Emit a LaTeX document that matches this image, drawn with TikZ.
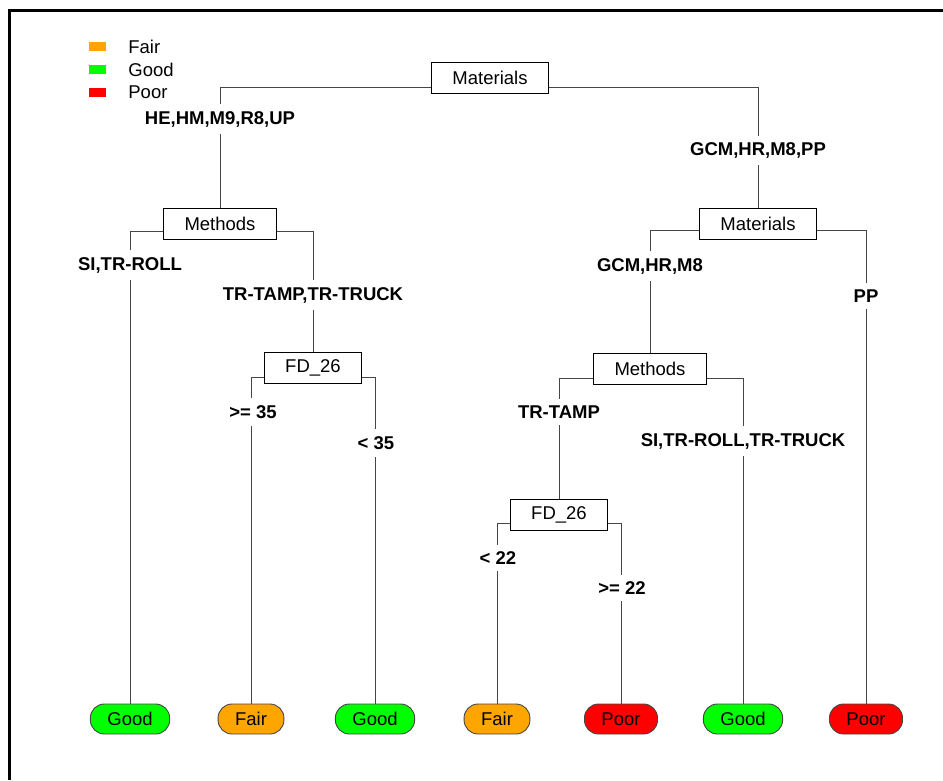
\documentclass[tikz,border=0pt]{standalone}
\usepackage{fontspec}
\setmainfont{Liberation Sans}
\usetikzlibrary{positioning}
\definecolor{fairc}{RGB}{255,165,0}
\definecolor{goodc}{RGB}{0,255,0}
\definecolor{poorc}{RGB}{255,0,0}
\definecolor{linec}{RGB}{70,70,70}

\begin{document}
\begin{tikzpicture}[x=1pt, y=-1pt,
    split/.style={draw, line width=0.9pt, fill=white, minimum height=31pt, inner xsep=21pt, font=\fontsize{18.5}{22}\selectfont},
    leaf/.style={draw=linec, line width=0.9pt, rounded corners=14pt, minimum height=30pt, inner xsep=17pt, font=\fontsize{18.5}{22}\selectfont},
    branch/.style={fill=white, inner xsep=2pt, inner ysep=7pt, font=\fontsize{18.5}{22}\selectfont\bfseries},
    edge/.style={draw=linec, line width=1pt},
    key/.style={minimum width=17pt, minimum height=9pt, inner sep=0pt},
]
  \useasboundingbox (0,0) rectangle (943,780);
  \draw[line width=3pt] (9.5,780) -- (9.5,10.5) -- (943,10.5);

  % legend
  \node[key, fill=fairc] (kfair) at (97.5,46.5) {};
  \node[key, fill=goodc] (kgood) at (97.5,69.5) {};
  \node[key, fill=poorc] (kpoor) at (97.5,92) {};
  \node[right=22pt of kfair, inner sep=0pt, font=\fontsize{18.5}{22}\selectfont] {Fair};
  \node[right=22pt of kgood, inner sep=0pt, font=\fontsize{18.5}{22}\selectfont] {Good};
  \node[right=22pt of kpoor, inner sep=0pt, font=\fontsize{18.5}{22}\selectfont] {Poor};

  % splits
  \node[split] (root) at (490,78) {Materials};
  \node[split] (methA) at (220,223.5) {Methods};
  \node[split] (fdA) at (313,368) {FD\_26};
  \node[split] (matB) at (758,224) {Materials};
  \node[split] (methB) at (650,369) {Methods};
  \node[split] (fdB) at (559,514.5) {FD\_26};

  % leaves
  \node[leaf, fill=goodc] (leafA) at (130,719) {Good};
  \node[leaf, fill=fairc] (leafB) at (251,719) {Fair};
  \node[leaf, fill=goodc] (leafC) at (375,719) {Good};
  \node[leaf, fill=fairc] (leafD) at (497,719) {Fair};
  \node[leaf, fill=poorc] (leafE) at (621,719) {Poor};
  \node[leaf, fill=goodc] (leafF) at (743,719) {Good};
  \node[leaf, fill=poorc] (leafG) at (866,719) {Poor};

  % edges
  \draw[edge] ([yshift=-9pt]root.west) -| (methA.north);
  \draw[edge] ([yshift=-9pt]root.east) -| (matB.north);
  \draw[edge] ([yshift=-7.5pt]methA.west) -| (leafA.north);
  \draw[edge] ([yshift=-7.5pt]methA.east) -| (fdA.north);
  \draw[edge] ([yshift=-9pt]fdA.west) -| (leafB.north);
  \draw[edge] ([yshift=-9pt]fdA.east) -| (leafC.north);
  \draw[edge] ([yshift=-6.5pt]matB.west) -| (methB.north);
  \draw[edge] ([yshift=-6.5pt]matB.east) -| (leafG.north);
  \draw[edge] ([yshift=-9pt]methB.west) -| (fdB.north);
  \draw[edge] ([yshift=-9pt]methB.east) -| (leafF.north);
  \draw[edge] ([yshift=-8.5pt]fdB.west) -| (leafD.north);
  \draw[edge] ([yshift=-8.5pt]fdB.east) -| (leafE.north);

  % branch labels
  \node[branch] (bA) at (220,119) {HE,HM,M9,R8,UP};
  \node[branch] (bB) at (758,150.5) {GCM,HR,M8,PP};
  \node[branch] (bC) at (130,265) {SI,TR-ROLL};
  \node[branch] (bD) at (313,295) {TR-TAMP,TR-TRUCK};
  \node[branch] (bE) at (253,412) {>= 35};
  \node[branch] (bF) at (376,443) {< 35};
  \node[branch] (bG) at (650,266) {GCM,HR,M8};
  \node[branch] (bH) at (866,296) {PP};
  \node[branch] (bI) at (559,412) {TR-TAMP};
  \node[branch] (bJ) at (743,441) {SI,TR-ROLL,TR-TRUCK};
  \node[branch] (bK) at (498,558) {< 22};
  \node[branch] (bL) at (622,588) {>= 22};
\end{tikzpicture}
\end{document}
